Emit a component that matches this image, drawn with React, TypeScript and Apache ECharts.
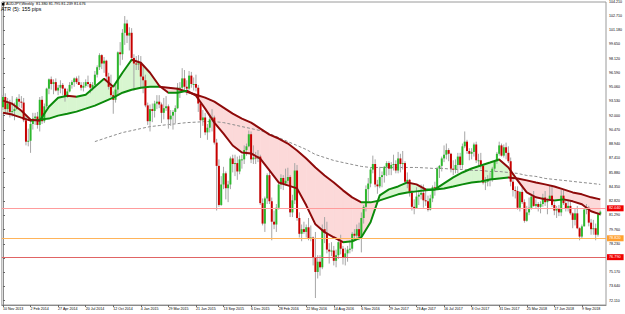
import React, { useEffect, useRef } from "react";
import * as echarts from "echarts";

const SLOT_COUNT = 263;
const xTickLabels = ["10 Nov 2013", "2 Feb 2014", "27 Apr 2014", "20 Jul 2014", "12 Oct 2014", "4 Jan 2015", "29 Mar 2015", "21 Jun 2015", "13 Sep 2015", "6 Dec 2015", "28 Feb 2016", "22 May 2016", "14 Aug 2016", "6 Nov 2016", "29 Jan 2017", "23 Apr 2017", "16 Jul 2017", "8 Oct 2017", "31 Dec 2017", "25 Mar 2018", "17 Jun 2018", "9 Sep 2018"];
const yTickValues = [72.11, 73.64, 75.17, 76.7, 78.23, 79.76, 81.29, 82.82, 84.35, 85.88, 87.41, 88.94, 90.47, 92.0, 93.53, 95.06, 96.59, 98.12, 99.65, 101.18, 102.71, 104.21];
const yMin = 71.65;
const yMax = 104.21;

const opens = [
  92.9, 94.0, 92.7, 93.3, 92.4, 92.5, 92.7, 93.8, 93.5, 93.4,
  91.5, 89.2, 89.3, 91.1, 91.7, 91.9, 91.0, 93.7, 91.4, 93.0,
  94.9, 95.9, 95.4, 95.6, 94.7, 95.0, 95.3, 94.9, 94.1, 94.6,
  95.3, 95.6, 96.0, 95.6, 95.3, 95.0, 95.2, 95.6, 95.4, 95.0,
  95.3, 96.4, 97.2, 98.5, 97.6, 97.9, 96.2, 95.1, 94.2, 93.7,
  94.8, 98.8, 98.6, 100.9, 101.9, 100.6, 100.9, 98.2, 97.6, 97.5,
  97.6, 96.2, 95.8, 93.1, 91.4, 92.7, 92.5, 93.3, 93.5, 93.2,
  92.3, 92.8, 93.0, 91.6, 92.0, 92.4, 92.8, 95.0, 95.0, 96.0,
  95.1, 94.9, 96.3, 95.4, 95.4, 95.0, 93.3, 91.5, 91.8, 90.2,
  90.7, 91.6, 91.8, 89.1, 86.6, 82.4, 84.6, 85.8, 84.2, 84.6,
  87.4, 86.8, 86.9, 86.0, 87.3, 87.3, 88.3, 88.7, 90.0, 87.3,
  87.5, 87.4, 87.6, 82.6, 80.4, 83.1, 85.6, 82.8, 80.6, 80.3,
  82.1, 84.6, 85.3, 84.7, 85.0, 85.4, 81.6, 82.9, 86.1, 81.0,
  79.3, 79.8, 79.5, 80.0, 78.8, 78.9, 76.8, 75.2, 76.3, 75.7,
  79.8, 79.4, 77.6, 77.4, 77.5, 76.4, 77.0, 78.4, 77.7, 76.7,
  77.2, 77.6, 77.7, 79.3, 79.1, 79.8, 79.0, 81.0, 82.2, 84.1,
  84.7, 86.2, 86.8, 84.6, 84.4, 85.4, 85.6, 86.5, 86.9, 86.3,
  86.7, 86.8, 86.1, 87.4, 86.8, 86.9, 84.9, 85.1, 83.7, 82.2,
  82.0, 83.3, 83.5, 83.7, 82.9, 82.8, 81.9, 83.1, 84.3, 84.2,
  86.3, 86.6, 87.4, 87.8, 88.3, 87.9, 86.3, 86.2, 86.7, 87.6,
  86.7, 88.7, 89.2, 88.2, 87.9, 88.1, 88.9, 87.2, 87.2, 86.6,
  84.8, 84.9, 85.2, 85.1, 86.3, 87.1, 87.9, 88.8, 87.7, 88.6,
  88.0, 87.1, 84.9, 84.0, 83.9, 82.1, 83.8, 82.7, 80.7, 81.6,
  82.1, 83.3, 82.3, 82.5, 82.2, 82.5, 83.2, 82.7, 82.9, 83.4,
  82.4, 81.8, 82.0, 81.6, 83.4, 82.6, 82.0, 82.3, 81.5, 80.8,
  81.5, 79.9, 79.0, 80.1, 81.9, 82.1, 80.5, 79.8, 79.9, 79.2,
  81.38,
];
const highs = [
  94.2, 94.4, 93.9, 93.7, 94.1, 93.4, 94.0, 94.3, 94.1, 93.9,
  92.0, 90.6, 91.4, 92.3, 92.3, 92.4, 94.0, 94.1, 93.3, 95.0,
  96.0, 96.2, 95.9, 96.0, 95.3, 95.8, 95.5, 95.0, 94.9, 95.6,
  95.8, 96.1, 96.2, 96.3, 95.6, 95.6, 95.9, 96.3, 95.6, 95.6,
  96.8, 97.4, 98.7, 98.6, 98.3, 98.0, 96.6, 96.4, 94.6, 95.3,
  98.9, 99.9, 101.3, 102.7, 102.3, 101.5, 101.4, 98.6, 98.4, 98.5,
  98.4, 97.3, 96.4, 93.4, 93.2, 93.3, 93.6, 94.2, 94.2, 93.4,
  93.9, 94.1, 93.2, 92.6, 92.6, 93.1, 95.5, 95.6, 97.1, 96.9,
  95.8, 96.8, 96.7, 96.1, 96.4, 95.3, 93.5, 92.6, 92.3, 91.1,
  92.2, 92.7, 92.0, 89.5, 87.3, 85.5, 86.5, 86.0, 85.0, 87.6,
  87.8, 87.8, 87.6, 87.7, 87.8, 88.8, 89.0, 90.4, 90.3, 88.8,
  88.1, 88.3, 87.8, 83.1, 83.3, 85.8, 86.1, 83.2, 81.8, 82.5,
  84.8, 85.7, 85.6, 86.3, 86.4, 85.6, 83.5, 86.9, 86.7, 81.6,
  80.3, 80.6, 80.3, 81.0, 80.2, 79.0, 79.5, 77.0, 77.0, 80.3,
  81.1, 80.6, 78.3, 78.4, 78.0, 77.6, 78.8, 79.2, 78.0, 77.8,
  78.0, 78.6, 79.5, 79.8, 80.3, 80.5, 81.6, 82.4, 84.5, 85.3,
  86.4, 87.7, 87.3, 85.1, 86.5, 86.0, 86.6, 87.1, 87.1, 87.0,
  87.8, 87.2, 88.1, 87.9, 88.2, 87.1, 85.9, 85.2, 84.0, 83.0,
  84.3, 84.0, 84.6, 84.6, 84.0, 83.4, 83.5, 84.5, 84.9, 86.5,
  86.7, 87.6, 88.8, 89.0, 88.5, 88.0, 87.2, 87.3, 88.0, 88.0,
  89.0, 90.3, 89.4, 88.5, 88.5, 89.1, 89.2, 87.9, 88.0, 86.8,
  85.4, 85.6, 85.9, 86.5, 87.2, 88.1, 89.2, 89.0, 88.9, 89.1,
  88.7, 87.5, 85.3, 84.4, 84.4, 83.9, 84.4, 83.0, 82.3, 83.2,
  83.6, 83.9, 83.0, 82.7, 82.8, 83.6, 83.9, 83.1, 84.5, 84.5,
  82.7, 82.3, 82.4, 84.0, 84.0, 83.0, 83.0, 82.8, 81.6, 82.0,
  82.3, 80.0, 80.3, 82.0, 82.5, 82.3, 80.9, 80.8, 80.4, 81.6,
  81.795,
];
const lows = [
  92.6, 92.3, 92.3, 91.8, 91.9, 91.5, 92.6, 92.9, 92.8, 91.3,
  88.8, 88.7, 88.0, 90.5, 91.0, 90.6, 90.3, 91.1, 91.2, 92.8,
  94.3, 94.8, 94.3, 94.6, 94.2, 94.4, 94.2, 93.5, 93.9, 94.5,
  94.9, 95.1, 95.4, 95.3, 94.7, 94.6, 95.0, 95.1, 94.4, 94.7,
  95.1, 96.1, 96.9, 97.0, 96.6, 95.6, 94.8, 94.0, 92.2, 93.4,
  94.1, 97.4, 98.0, 99.6, 99.8, 99.0, 97.8, 94.7, 96.9, 96.9,
  95.0, 94.4, 92.9, 91.0, 90.3, 91.3, 91.8, 92.7, 92.8, 91.2,
  91.6, 92.5, 90.6, 90.9, 90.5, 91.2, 92.7, 93.9, 94.8, 94.7,
  94.2, 94.7, 95.0, 94.7, 94.6, 92.4, 89.6, 90.9, 89.9, 89.4,
  90.2, 90.3, 88.9, 81.8, 82.2, 82.3, 84.1, 83.0, 82.7, 84.1,
  85.9, 85.5, 85.1, 85.7, 86.3, 86.8, 87.7, 88.6, 86.9, 86.8,
  86.8, 87.0, 82.4, 80.2, 79.5, 82.5, 82.5, 78.6, 79.8, 79.5,
  81.9, 84.1, 84.0, 84.5, 84.7, 81.1, 81.1, 82.5, 80.7, 78.9,
  78.5, 79.3, 78.9, 78.6, 78.5, 75.9, 72.4, 74.5, 74.8, 75.5,
  78.3, 77.2, 76.1, 76.9, 75.9, 75.7, 76.6, 77.1, 76.0, 75.9,
  76.3, 77.2, 77.4, 78.5, 78.7, 78.6, 77.3, 80.4, 81.7, 82.8,
  84.3, 85.8, 84.3, 83.6, 84.2, 84.3, 84.8, 85.5, 85.6, 85.6,
  86.1, 85.8, 85.8, 85.9, 86.2, 84.6, 84.2, 83.3, 81.8, 81.4,
  82.0, 82.4, 83.0, 82.1, 82.3, 81.7, 81.8, 82.7, 83.4, 84.0,
  85.3, 86.0, 87.0, 87.3, 87.1, 85.9, 85.6, 85.8, 85.8, 86.3,
  86.3, 88.5, 87.9, 87.2, 87.3, 87.6, 86.9, 86.6, 86.3, 84.6,
  84.0, 84.4, 84.4, 84.9, 86.0, 86.8, 87.7, 87.6, 87.5, 87.3,
  86.9, 84.4, 83.3, 83.1, 81.9, 81.7, 82.5, 80.5, 80.6, 81.3,
  81.9, 82.2, 82.1, 81.7, 81.5, 82.2, 82.3, 81.4, 82.8, 82.2,
  81.3, 81.0, 81.2, 81.2, 82.4, 81.7, 81.7, 81.3, 79.9, 80.2,
  79.8, 78.6, 78.8, 80.1, 81.4, 80.1, 79.2, 79.2, 78.6, 79.0,
  81.239,
];
const closes = [
  94.0, 92.7, 93.3, 92.4, 92.5, 92.7, 93.8, 93.5, 93.4, 91.5,
  89.2, 89.3, 91.1, 91.7, 91.9, 91.0, 93.7, 91.4, 93.0, 94.9,
  95.9, 95.4, 95.6, 94.7, 95.0, 95.3, 94.9, 94.1, 94.6, 95.3,
  95.6, 96.0, 95.6, 95.3, 95.0, 95.2, 95.6, 95.4, 95.0, 95.3,
  96.4, 97.2, 98.5, 97.6, 97.9, 96.2, 95.1, 94.2, 93.7, 94.8,
  98.8, 98.6, 100.9, 101.9, 100.6, 100.9, 98.2, 97.6, 97.5, 97.6,
  96.2, 95.8, 93.1, 91.4, 92.7, 92.5, 93.3, 93.5, 93.2, 92.3,
  92.8, 93.0, 91.6, 92.0, 92.4, 92.8, 95.0, 95.0, 96.0, 95.1,
  94.9, 96.3, 95.4, 95.4, 95.0, 93.3, 91.5, 91.8, 90.2, 90.7,
  91.6, 91.8, 89.1, 86.6, 82.4, 84.6, 85.8, 84.2, 84.6, 87.4,
  86.8, 86.9, 86.0, 87.3, 87.3, 88.3, 88.7, 90.0, 87.3, 87.5,
  87.4, 87.6, 82.6, 80.4, 83.1, 85.6, 82.8, 80.6, 80.3, 82.1,
  84.6, 85.3, 84.7, 85.0, 85.4, 81.6, 82.9, 86.1, 81.0, 79.3,
  79.8, 79.5, 80.0, 78.8, 78.9, 76.8, 75.2, 76.3, 75.7, 79.8,
  79.4, 77.6, 77.4, 77.5, 76.4, 77.0, 78.4, 77.7, 76.7, 77.2,
  77.6, 77.7, 79.3, 79.1, 79.8, 79.0, 81.0, 82.2, 84.1, 84.7,
  86.2, 86.8, 84.6, 84.4, 85.4, 85.6, 86.5, 86.9, 86.3, 86.7,
  86.8, 86.1, 87.4, 86.8, 86.9, 84.9, 85.1, 83.7, 82.2, 82.0,
  83.3, 83.5, 83.7, 82.9, 82.8, 81.9, 83.1, 84.3, 84.2, 86.3,
  86.6, 87.4, 87.8, 88.3, 87.9, 86.3, 86.2, 86.7, 87.6, 86.7,
  88.7, 89.2, 88.2, 87.9, 88.1, 88.9, 87.2, 87.2, 86.6, 84.8,
  84.9, 85.2, 85.1, 86.3, 87.1, 87.9, 88.8, 87.7, 88.6, 88.0,
  87.1, 84.9, 84.0, 83.9, 82.1, 83.8, 82.7, 80.7, 81.6, 82.1,
  83.3, 82.3, 82.5, 82.2, 82.5, 83.2, 82.7, 82.9, 83.4, 82.4,
  81.8, 82.0, 81.6, 83.4, 82.6, 82.0, 82.3, 81.5, 80.8, 81.5,
  79.9, 79.0, 80.1, 81.9, 82.1, 80.5, 79.8, 79.9, 79.2, 81.4,
  81.676,
];

// moving averages at these bar positions
const maBars = [0, 4, 8, 12, 16, 20, 24, 28, 32, 36, 40, 44, 48, 52, 56, 60, 64, 68, 72, 76, 80, 84, 88, 92, 96, 100, 104, 108, 112, 116, 120, 124, 128, 132, 136, 140, 144, 148, 152, 156, 160, 164, 168, 172, 176, 180, 184, 188, 192, 196, 200, 204, 208, 212, 216, 220, 224, 228, 232, 236, 240, 244, 248, 252, 256, 260];
const fastMA = [93.61, 93.28, 92.53, 91.57, 91.46, 92.96, 93.93, 94.14, 94.03, 94.25, 95.11, 95.96, 95.11, 96.61, 98.0, 97.68, 96.61, 95.21, 94.46, 94.46, 94.68, 94.14, 92.75, 91.25, 90.07, 88.79, 88.04, 87.93, 87.39, 86.11, 84.82, 84.5, 84.18, 82.36, 80.32, 79.47, 78.93, 78.4, 78.5, 78.93, 80.54, 83.43, 84.07, 84.39, 84.82, 84.61, 84.07, 84.07, 84.72, 85.36, 85.89, 86.32, 86.64, 86.96, 87.29, 86.43, 85.04, 83.75, 83.22, 83.0, 82.89, 83.0, 82.79, 82.47, 81.72, 81.39];
const slowMA = [92.32, 92.11, 91.78, 91.46, 91.57, 91.68, 92.0, 92.21, 92.43, 92.75, 93.07, 93.5, 93.93, 94.46, 94.78, 95.0, 95.11, 95.11, 95.0, 94.89, 94.57, 94.25, 93.93, 93.5, 92.86, 92.21, 91.68, 91.25, 90.61, 89.96, 89.54, 89.0, 88.25, 87.39, 86.43, 85.57, 84.82, 83.97, 83.22, 82.68, 82.68, 82.89, 83.22, 83.54, 83.75, 83.86, 83.97, 84.07, 84.18, 84.39, 84.61, 84.82, 84.93, 85.14, 85.25, 85.36, 85.25, 85.04, 84.82, 84.61, 84.39, 84.07, 83.75, 83.54, 83.22, 83.0];
const longBars = [40, 44, 48, 52, 56, 60, 64, 68, 72, 76, 80, 84, 88, 92, 96, 100, 104, 108, 112, 116, 120, 124, 128, 132, 136, 140, 144, 148, 152, 156, 160, 164, 168, 172, 176, 180, 184, 188, 192, 196, 200, 204, 208, 212, 216, 220, 224, 228, 232, 236, 240, 244, 248, 252, 256, 260];
const longMA = [89.21, 89.54, 89.86, 90.18, 90.39, 90.61, 90.82, 90.93, 91.04, 91.14, 91.25, 91.3, 91.36, 91.36, 91.25, 91.04, 90.82, 90.61, 90.39, 90.07, 89.64, 89.21, 88.79, 88.36, 87.82, 87.5, 87.18, 86.96, 86.75, 86.54, 86.43, 86.43, 86.43, 86.43, 86.43, 86.43, 86.38, 86.32, 86.32, 86.22, 86.22, 86.11, 86.11, 86.0, 86.0, 85.89, 85.79, 85.57, 85.47, 85.25, 85.14, 85.04, 84.93, 84.82, 84.72, 84.61];

const levelUpper = 82.04;
const levelOrange = 78.82;
const levelLower = 76.79;
const lastPrice = 81.676;
const headerText = "AUDJPY,Weekly  81.380 81.795 81.239 81.676";
const atrText = "ATR (5): 155 pips";

const BULL = "#2db82d";
const BEAR = "#c80000";
const WICK = "#a6a6a6";
const LINE_UP = "#0b8a0b";
const LINE_DOWN = "#8e0a0a";
const FILL_UP = "#d8f6d0";
const FILL_DOWN = "#fcd9d9";
const FONT = "Liberation Sans, Arial, sans-serif";

function slopePieces(vals: number[]) {
  const pieces: any[] = [];
  for (let k = 0; k < vals.length - 1; k++) {
    pieces.push({
      gte: k === 0 ? -10 : maBars[k],
      lt: k === vals.length - 2 ? 400 : maBars[k + 1],
      color: vals[k + 1] >= vals[k] ? LINE_UP : LINE_DOWN,
    });
  }
  return pieces;
}

export default function App() {
  const ref = useRef<HTMLDivElement>(null);
  useEffect(() => {
    if (!ref.current) return;
    const chart = echarts.init(ref.current, undefined, { renderer: "svg" });
    const slotNames = Array.from({ length: SLOT_COUNT }, (_, i) => String(i));
    const candleRows = closes.map((c, i) => [i, opens[i], c, lows[i], highs[i]]);
    const fillRows = maBars.slice(0, -1).map((b, k) => [b, fastMA[k], slowMA[k], maBars[k + 1], fastMA[k + 1], slowMA[k + 1]]);
    const labelBase = {
      show: true,
      position: "end",
      distance: 1,
      color: "#fff",
      fontSize: 3.8,
      fontFamily: FONT,
      padding: [1, 3, 1, 2],
      formatter: (p: any) => Number(p.value).toFixed(3),
    };
    const levelItem = (value: number, lineColor: string, boxColor: string, visible: boolean) => ({
      yAxis: value,
      lineStyle: { color: lineColor, width: 1, type: "solid", opacity: visible ? 1 : 0 },
      itemStyle: { color: lineColor },
      label: { ...labelBase, backgroundColor: boxColor },
    });
    chart.setOption({
      animation: false,
      backgroundColor: "#ffffff",
      grid: { left: 0, top: 1, right: 16, bottom: 9, show: true, borderColor: "#9a9a9a", borderWidth: 1 },
      xAxis: [
        {
          type: "category",
          data: slotNames,
          boundaryGap: true,
          axisLine: { show: true, lineStyle: { color: "#8a8a8a", width: 1 } },
          axisTick: { show: true, alignWithLabel: true, length: 2, interval: (i: number) => i % 12 === 0 && i / 12 < xTickLabels.length, lineStyle: { color: "#666" } },
          axisLabel: {
            interval: (i: number) => i % 12 === 0 && i / 12 < xTickLabels.length,
            formatter: (_v: string, i: number) => xTickLabels[i / 12] ?? "",
            align: "left",
            margin: 2,
            fontSize: 3.6,
            color: "#000",
            fontFamily: FONT,
          },
          splitLine: { show: false },
        },
        { type: "value", min: -0.5, max: SLOT_COUNT - 0.5, show: false },
      ],
      yAxis: {
        type: "value",
        position: "right",
        min: yMin,
        max: yMax,
        scale: true,
        axisLine: { show: true, lineStyle: { color: "#8a8a8a" } },
        axisTick: { show: true, length: 2, customValues: yTickValues, lineStyle: { color: "#666" } },
        axisLabel: { customValues: yTickValues, formatter: (v: number) => v.toFixed(3), fontSize: 3.6, margin: 3, color: "#000", fontFamily: FONT },
        splitLine: { show: false },
      },
      visualMap: [
        { type: "piecewise", show: false, dimension: 0, seriesIndex: 4, pieces: slopePieces(slowMA) },
        { type: "piecewise", show: false, dimension: 0, seriesIndex: 5, pieces: slopePieces(fastMA) },
      ],
      graphic: [
        { type: "rect", left: 2, top: 3, shape: { width: 2.5, height: 2.5 }, style: { fill: "#000" }, z: 100 },
        { type: "text", left: 6, top: 2.2, style: { text: headerText, fontSize: 3.8, fontFamily: FONT, fill: "#000" }, z: 100 },
        { type: "text", left: 1, top: 6.5, style: { text: atrText, fontSize: 5.2, fontFamily: FONT, fill: "#000" }, z: 100 },
      ],
      series: [
        {
          type: "custom",
          name: "fill",
          xAxisIndex: 1,
          z: 1,
          silent: true,
          data: fillRows,
          renderItem: (_p: any, api: any) => {
            const x0 = api.value(0), f0 = api.value(1), s0 = api.value(2);
            const x1 = api.value(3), f1 = api.value(4), s1 = api.value(5);
            const F0 = api.coord([x0, f0]), S0 = api.coord([x0, s0]);
            const F1 = api.coord([x1, f1]), S1 = api.coord([x1, s1]);
            const d0 = f0 - s0, d1 = f1 - s1;
            const col = (d: number) => (d >= 0 ? FILL_UP : FILL_DOWN);
            if ((d0 >= 0) === (d1 >= 0)) {
              return { type: "polygon", shape: { points: [F0, F1, S1, S0] }, style: { fill: col(d0), stroke: col(d0), lineWidth: 0.6 } };
            }
            const t = d0 / (d0 - d1);
            const X = [F0[0] + (F1[0] - F0[0]) * t, F0[1] + (F1[1] - F0[1]) * t];
            return {
              type: "group",
              children: [
                { type: "polygon", shape: { points: [F0, X, S0] }, style: { fill: col(d0), stroke: col(d0), lineWidth: 0.6 } },
                { type: "polygon", shape: { points: [X, F1, S1] }, style: { fill: col(d1), stroke: col(d1), lineWidth: 0.6 } },
              ],
            };
          },
        },
        {
          type: "line",
          name: "levels",
          xAxisIndex: 1,
          data: [],
          z: 2,
          silent: true,
          markLine: {
            silent: true,
            symbol: ["none", "none"],
            animation: false,
            data: [
              levelItem(levelUpper, "#ff9c9c", "#f00000", true),
              levelItem(levelOrange, "#ffb45a", "#ffa030", true),
              levelItem(levelLower, "#e06464", "#f00000", true),
              levelItem(lastPrice, "#000000", "#000000", false),
            ],
          },
        },
        {
          type: "line",
          name: "long",
          xAxisIndex: 1,
          z: 2,
          silent: true,
          showSymbol: false,
          data: longMA.map((v, k) => [longBars[k], v]),
          lineStyle: { color: "#8c8c8c", width: 1, type: [3, 2] },
        },
        {
          type: "custom",
          name: "candles",
          xAxisIndex: 1,
          z: 3,
          silent: true,
          data: candleRows,
          renderItem: (_p: any, api: any) => {
            const i = api.value(0), o = api.value(1), c = api.value(2), l = api.value(3), h = api.value(4);
            const pO = api.coord([i, o]), pC = api.coord([i, c]), pL = api.coord([i, l]), pH = api.coord([i, h]);
            const cx = pO[0];
            const top = Math.min(pO[1], pC[1]);
            const bot = Math.max(pO[1], pC[1]);
            return {
              type: "group",
              children: [
                { type: "line", shape: { x1: cx, y1: pH[1], x2: cx, y2: pL[1] }, style: { stroke: WICK, lineWidth: 1 } },
                { type: "rect", shape: { x: cx - 1, y: top, width: 2, height: Math.max(bot - top, 1) }, style: { fill: c >= o ? BULL : BEAR } },
              ],
            };
          },
        },
        {
          type: "line",
          name: "slow",
          xAxisIndex: 1,
          z: 4,
          silent: true,
          showSymbol: false,
          data: slowMA.map((v, k) => [maBars[k], v]),
          lineStyle: { width: 2 },
        },
        {
          type: "line",
          name: "fast",
          xAxisIndex: 1,
          z: 4,
          silent: true,
          showSymbol: false,
          data: fastMA.map((v, k) => [maBars[k], v]),
          lineStyle: { width: 2 },
        },
      ],
    });
    return () => chart.dispose();
  }, []);
  return <div ref={ref} style={{ position: "fixed", left: 0, top: 0, width: 625, height: 314, background: "#fff" }} />;
}
